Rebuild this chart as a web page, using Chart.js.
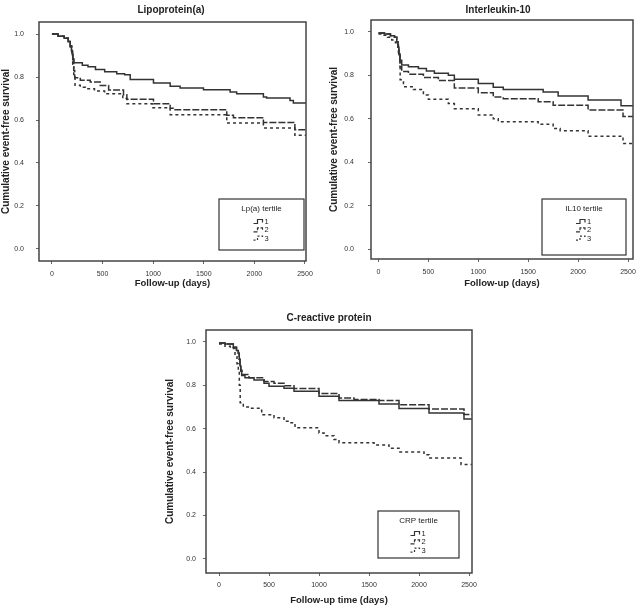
<!DOCTYPE html>
<html>
<head>
<meta charset="utf-8">
<script src="https://cdn.jsdelivr.net/npm/chart.js@4"></script>
<style>
body { margin: 0; background: #fff; }
canvas { position: absolute; }
</style>
</head>
<body>
<canvas id="plotLpa" width="318" height="290" style="left:0;top:0"></canvas>
<canvas id="plotIl10" width="319" height="290" style="left:318px;top:0"></canvas>
<canvas id="plotCrp" width="340" height="316" style="left:160px;top:290px"></canvas>
<script>
var xTicks = [0, 500, 1000, 1500, 2000, 2500];
var yTicks = [0, 0.2, 0.4, 0.6, 0.8, 1.0];
var tertiles = ['1', '2', '3'];

// Lipoprotein(a) tertiles
var lpaDays1 = [0, 60, 120, 160, 180, 192, 200, 208, 216, 300, 356, 430, 521, 640, 718, 773, 1003, 1168, 1266, 1497, 1760, 1825, 2089, 2121, 2352, 2385, 2510];
var lpaSurv1 = [1.0, 0.99, 0.98, 0.965, 0.945, 0.925, 0.905, 0.885, 0.866, 0.855, 0.848, 0.835, 0.825, 0.815, 0.81, 0.788, 0.772, 0.757, 0.749, 0.741, 0.73, 0.722, 0.707, 0.702, 0.691, 0.679, 0.679];
var lpaDays2 = [0, 60, 120, 160, 180, 195, 205, 215, 225, 280, 378, 477, 560, 707, 740, 1003, 1168, 1200, 1727, 1793, 2089, 2400, 2510];
var lpaSurv2 = [1.0, 0.99, 0.98, 0.965, 0.945, 0.92, 0.88, 0.83, 0.797, 0.785, 0.777, 0.76, 0.74, 0.718, 0.696, 0.676, 0.655, 0.648, 0.622, 0.611, 0.588, 0.555, 0.555];
var lpaDays3 = [0, 60, 120, 160, 180, 195, 205, 215, 228, 280, 330, 420, 520, 700, 740, 990, 1168, 1727, 2089, 2400, 2510];
var lpaSurv3 = [1.0, 0.99, 0.98, 0.965, 0.94, 0.91, 0.86, 0.80, 0.762, 0.752, 0.745, 0.735, 0.722, 0.70, 0.676, 0.657, 0.625, 0.586, 0.563, 0.529, 0.529];

// Interleukin-10 tertiles
var il10Days1 = [0, 60, 120, 160, 183, 195, 205, 215, 233, 300, 400, 480, 560, 700, 760, 1000, 1150, 1250, 1650, 1800, 2100, 2430, 2550];
var il10Surv1 = [0.995, 0.99, 0.982, 0.975, 0.955, 0.93, 0.9, 0.87, 0.848, 0.84, 0.832, 0.82, 0.81, 0.8, 0.782, 0.763, 0.745, 0.735, 0.723, 0.705, 0.686, 0.66, 0.66];
var il10Days2 = [0, 60, 120, 160, 183, 195, 205, 215, 233, 300, 450, 600, 760, 1000, 1150, 1250, 1600, 1750, 2100, 2450, 2550];
var il10Surv2 = [0.995, 0.99, 0.982, 0.975, 0.955, 0.93, 0.89, 0.84, 0.818, 0.805, 0.79, 0.776, 0.742, 0.72, 0.70, 0.692, 0.678, 0.662, 0.64, 0.61, 0.61];
var il10Days3 = [0, 40, 90, 133, 170, 200, 217, 250, 350, 450, 500, 700, 760, 1000, 1150, 1200, 1600, 1750, 1820, 2100, 2450, 2550];
var il10Surv3 = [0.99, 0.985, 0.975, 0.963, 0.95, 0.9, 0.78, 0.748, 0.735, 0.71, 0.69, 0.67, 0.646, 0.617, 0.60, 0.586, 0.575, 0.555, 0.545, 0.52, 0.486, 0.486];

// C-reactive protein tertiles
var crpDays1 = [0, 60, 143, 175, 193, 202, 210, 218, 227, 260, 350, 450, 500, 650, 750, 1000, 1200, 1600, 1800, 2100, 2450, 2530];
var crpSurv1 = [0.995, 0.99, 0.975, 0.96, 0.948, 0.92, 0.89, 0.865, 0.845, 0.835, 0.825, 0.81, 0.796, 0.786, 0.773, 0.75, 0.73, 0.714, 0.693, 0.673, 0.645, 0.645];
var crpDays2 = [0, 60, 143, 175, 193, 202, 210, 218, 230, 300, 450, 550, 650, 750, 1000, 1200, 1350, 1600, 1800, 2100, 2450, 2530];
var crpSurv2 = [0.995, 0.99, 0.975, 0.96, 0.948, 0.92, 0.89, 0.87, 0.85, 0.835, 0.818, 0.81, 0.798, 0.785, 0.762, 0.742, 0.735, 0.73, 0.71, 0.691, 0.665, 0.665];
var crpDays3 = [0, 60, 113, 160, 180, 193, 203, 212, 243, 293, 400, 427, 550, 650, 700, 760, 1000, 1050, 1150, 1200, 1550, 1700, 1800, 2050, 2100, 2420, 2530];
var crpSurv3 = [0.99, 0.98, 0.97, 0.932, 0.9, 0.871, 0.8, 0.72, 0.70, 0.694, 0.685, 0.664, 0.65, 0.634, 0.627, 0.604, 0.58, 0.568, 0.55, 0.535, 0.525, 0.51, 0.493, 0.48, 0.465, 0.435, 0.435];

var lineColour = '#333';
var dashes = [[], [7, 2], [3, 3]];
var glyphDashes = [[], [4, 1.5], [2, 2]];
var fontFamily = '"Liberation Sans", Arial, sans-serif';

function drawExtras(chart, title, legendTitle, opt) {
    var a = chart.chartArea, c = chart.ctx;
    c.save();
    c.setLineDash([]);
    c.strokeStyle = '#444';
    c.lineWidth = 1.5;
    c.strokeRect(a.left, a.top, a.right - a.left, a.bottom - a.top);

    c.fillStyle = '#222';
    c.textAlign = 'center';
    c.textBaseline = 'middle';
    c.font = 'bold 10px ' + fontFamily;
    c.fillText(title, opt.titleX, opt.titleY);

    // legend box, R style
    var b = opt.box;
    c.strokeStyle = '#333';
    c.lineWidth = 1.2;
    c.strokeRect(b[0], b[1], b[2], b[3]);
    var cx = b[0] + b[2] / 2;
    c.font = '8px ' + fontFamily;
    c.fillText(legendTitle, cx, b[1] + 10);
    c.font = '7.5px ' + fontFamily;
    c.textAlign = 'left';
    chart.data.datasets.forEach(function (ds, i) {
        var y = b[1] + 22.5 + i * 8.3;
        var x0 = cx - 8;
        c.setLineDash(glyphDashes[i]);
        c.lineWidth = 1.2;
        c.beginPath();
        c.moveTo(x0, y + 2);
        c.lineTo(x0 + 4, y + 2);
        c.lineTo(x0 + 4, y - 2);
        c.lineTo(x0 + 9, y - 2);
        c.lineTo(x0 + 9, y + 1);
        c.stroke();
        c.fillText(ds.label, cx + 3, y + 0.5);
    });
    c.restore();
}

function survivalChart(id, title, legendTitle, xTitle, series, opt) {
    var ctx = document.getElementById(id).getContext('2d');
    return new Chart(ctx, {
        type: 'line',
        data: {
            datasets: series.map(function (s, i) {
                return {
                    label: tertiles[i],
                    data: s[0].map(function (d, j) { return { x: d, y: s[1][j] }; }),
                    stepped: true,
                    pointRadius: 0,
                    borderWidth: 1.5,
                    borderColor: lineColour,
                    borderDash: dashes[i],
                    fill: false
                };
            })
        },
        options: {
            responsive: false,
            animation: false,
            layout: { padding: { left: 0, top: opt.top, right: opt.right, bottom: 0 } },
            scales: {
                x: {
                    type: 'linear',
                    min: opt.xMin,
                    max: opt.xMax,
                    afterBuildTicks: function (s) { s.ticks = xTicks.map(function (v) { return { value: v }; }); },
                    afterFit: function (s) { s.height = opt.xh; s.paddingLeft = 0; s.paddingRight = 0; },
                    ticks: {
                        font: { size: 7, family: fontFamily },
                        color: '#333',
                        padding: opt.xPad,
                        maxRotation: 0,
                        callback: function (v) { return String(v); }
                    },
                    grid: { drawOnChartArea: false, drawTicks: true, tickLength: 3, color: '#666' },
                    border: { display: false },
                    title: {
                        display: true,
                        text: xTitle,
                        color: '#222',
                        font: { size: 9.5, weight: 'bold', family: fontFamily },
                        padding: { top: 0, bottom: opt.xTitlePad }
                    }
                },
                y: {
                    min: opt.yMin,
                    max: opt.yMax,
                    afterBuildTicks: function (s) { s.ticks = yTicks.map(function (v) { return { value: v }; }); },
                    afterFit: function (s) { s.width = opt.yw; s.paddingTop = 0; s.paddingBottom = 0; },
                    ticks: {
                        font: { size: 7, family: fontFamily },
                        color: '#333',
                        padding: opt.yPad,
                        callback: function (v) { return v.toFixed(1); }
                    },
                    grid: { drawOnChartArea: false, drawTicks: true, tickLength: 3, color: '#666' },
                    border: { display: false },
                    title: {
                        display: true,
                        text: 'Cumulative event-free survival',
                        color: '#222',
                        font: { size: 10, weight: 'bold', family: fontFamily },
                        padding: { top: opt.yTitlePad, bottom: 0 }
                    }
                }
            },
            plugins: {
                legend: { display: false },
                tooltip: { enabled: false }
            }
        },
        plugins: [{
            id: 'frame',
            afterDraw: function (chart) { drawExtras(chart, title, legendTitle, opt); }
        }]
    });
}

survivalChart('plotLpa', 'Lipoprotein(a)', 'Lp(a) tertile', 'Follow-up (days)',
    [[lpaDays1, lpaSurv1], [lpaDays2, lpaSurv2], [lpaDays3, lpaSurv3]],
    { top: 22, right: 12, xh: 29, yw: 39, xMin: -128, xMax: 2510, yMin: -0.056, yMax: 1.056,
      xPad: 6, yPad: 12, xTitlePad: 1, yTitlePad: 0,
      titleX: 171, titleY: 10, box: [219, 199, 85, 51] });

survivalChart('plotIl10', 'Interleukin-10', 'IL10 tertile', 'Follow-up (days)',
    [[il10Days1, il10Surv1], [il10Days2, il10Surv2], [il10Days3, il10Surv3]],
    { top: 20, right: 4, xh: 31, yw: 53, xMin: -75, xMax: 2550, yMin: -0.046, yMax: 1.055,
      xPad: 6, yPad: 14, xTitlePad: 1, yTitlePad: 10,
      titleX: 180, titleY: 10, box: [224, 199, 84, 56] });

survivalChart('plotCrp', 'C-reactive protein', 'CRP tertile', 'Follow-up time (days)',
    [[crpDays1, crpSurv1], [crpDays2, crpSurv2], [crpDays3, crpSurv3]],
    { top: 40, right: 28, xh: 33, yw: 46, xMin: -130, xMax: 2530, yMin: -0.065, yMax: 1.055,
      xPad: 5, yPad: 7, xTitlePad: 0, yTitlePad: 4,
      titleX: 169, titleY: 28, box: [218, 221, 81, 47] });
</script>
</body>
</html>
